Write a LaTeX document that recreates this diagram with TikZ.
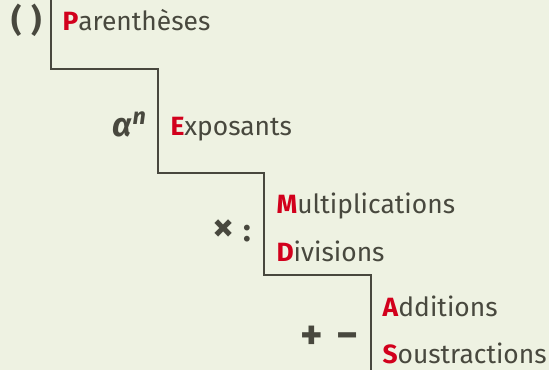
\documentclass[tikz,border=0pt]{standalone}
\usepackage{fontspec}
\setmainfont{Fira Sans}
\definecolor{bgcol}{RGB}{238,242,226}
\definecolor{inkcol}{RGB}{72,72,62}
\definecolor{redcol}{RGB}{210,0,28}
\tikzset{every picture/.style={line width=0.75pt}}
\tikzset{
  word/.style={anchor=base west,inner sep=0pt,text=inkcol,font=\fontsize{19.8}{24}\selectfont},
  sym/.style={anchor=base east,inner sep=0pt,text=inkcol,font=\fontsize{24}{28}\selectfont\bfseries},
  stair/.style={draw=inkcol,line width=1.1pt}
}
\newcommand{\lead}[1]{\textcolor{redcol}{\textbf{#1}}}
\newcommand{\bigsym}[2]{{\fontsize{#1}{#1}\selectfont #2}}

\begin{document}
\begin{tikzpicture}[x=0.75pt,y=0.75pt,yscale=-1,xscale=1]
\fill[bgcol] (0,0) rectangle (549,370);
\useasboundingbox (0,0) rectangle (549,370);

% Stair corners
\coordinate (s0) at (51,0);
\coordinate (s1) at (51,69);
\coordinate (s2) at (158,69);
\coordinate (s3) at (158,173);
\coordinate (s4) at (264,173);
\coordinate (s5) at (264,275);
\coordinate (s6) at (371,275);
\coordinate (s7) at (371,370);
\draw[stair] (s0) -- (s1) -- (s2) -- (s3) -- (s4) -- (s5) -- (s6) -- (s7);

% Text Node
\node[sym] (paren) at (42,32) {(\hspace{0.3em})};
\node[word] (par) at (62,31) {\lead{P}arenthèses};
% Text Node
\node[sym,font=\fontsize{25}{28}\selectfont\bfseries] (pow) at (147,137) {\itshape α\textsuperscript{n}};
\node[word] (exp) at (170,136) {\lead{E}xposants};
% Text Node
\node[sym] (muldiv) at (252,242) {\bigsym{32}{×}\hspace{0.3em}:};
\node[word] (mul) at (276,214) {\lead{M}ultiplications};
\node[word] (div) at (276,261) {\lead{D}ivisions};
% Text Node
\node[sym,font=\fontsize{32}{34}\selectfont\bfseries] (addsub) at (359,349) {+\hspace{0.3em}−};
\node[word] (add) at (382,316) {\lead{A}dditions};
\node[word] (sub) at (382,363) {\lead{S}oustractions};

\end{tikzpicture}
\end{document}
